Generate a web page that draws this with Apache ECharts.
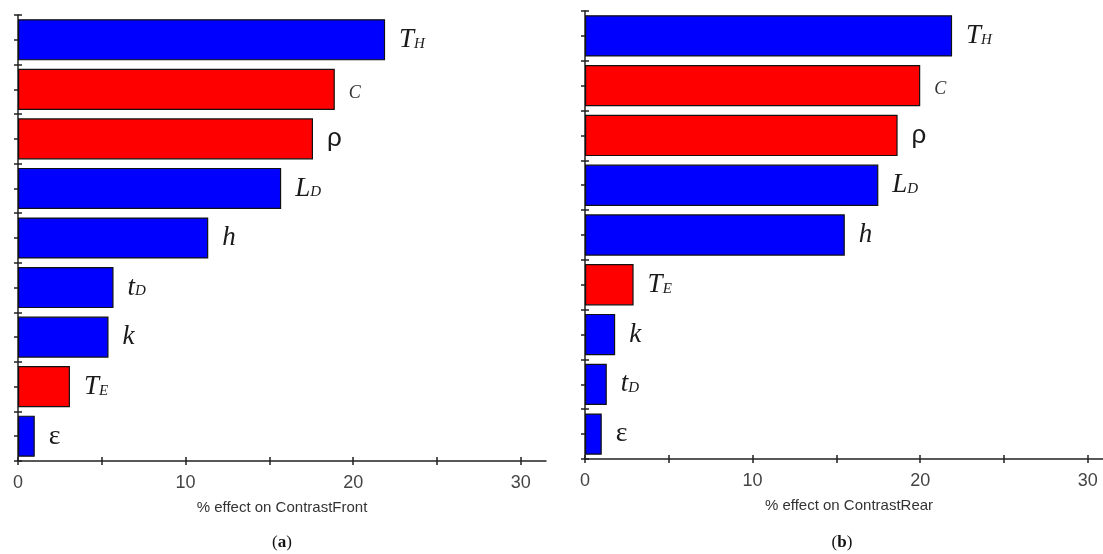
<!DOCTYPE html>
<html>
<head>
<meta charset="utf-8">
<script src="https://cdn.jsdelivr.net/npm/echarts@6/dist/echarts.min.js"></script>
<style>
  html, body { margin: 0; padding: 0; background: #fff; }
  #chart { width: 1103px; height: 554px; }
</style>
</head>
<body>
<div id="chart"></div>
<script>
// Sensitivity of front and rear contrast to each parameter (% effect)
const catsFront = ['TH', 'C', 'ρ', 'LD', 'h', 'tD', 'k', 'TE', 'ε'];
const valsFront = [21.9, 18.9, 17.6, 15.7, 11.35, 5.7, 5.4, 3.1, 1.0];
const groupFront = [0, 1, 1, 0, 0, 0, 0, 1, 0];

const catsRear = ['TH', 'C', 'ρ', 'LD', 'h', 'TE', 'k', 'tD', 'ε'];
const valsRear = [21.9, 20.0, 18.65, 17.5, 15.5, 2.9, 1.8, 1.3, 1.0];
const groupRear = [0, 1, 1, 0, 0, 1, 0, 0, 0];

const xTicks = [0, 5, 10, 15, 20, 25, 30];
const xLabels = [0, 10, 20, 30];
const axisNames = ['% effect on ContrastFront', '% effect on ContrastRear'];
const panelTags = ['a', 'b'];

const palette = ['#0000ff', '#ff0000'];

// parameter symbols as rich text: italic letters with small subscripts
const symbolText = {
  TH: '{it|T}{sub|H}',
  C: '{sc|C}',
  'ρ': '{gr|ρ}',
  LD: '{it|L}{sub|D}',
  h: '{it|h}',
  tD: '{it|t}{sub|D}',
  k: '{it|k}',
  TE: '{it|T}{sub|E}',
  'ε': '{ep|ε}'
};

const rich = {
  it: { fontFamily: 'Liberation Serif', fontStyle: 'italic', fontSize: 27, color: '#1a1a1a' },
  sub: { fontFamily: 'Liberation Serif', fontStyle: 'italic', fontSize: 15, color: '#1a1a1a', padding: [8, 0, 0, 0] },
  sc: { fontFamily: 'Liberation Serif', fontStyle: 'italic', fontSize: 18, color: '#333', padding: [8, 0, 0, 0] },
  gr: { fontFamily: 'Liberation Sans', fontSize: 26, color: '#1a1a1a' },
  ep: { fontFamily: 'Liberation Serif', fontSize: 28, color: '#1a1a1a' }
};

const grids = [
  { left: 18, top: 15, width: 528, height: 446, outerBoundsMode: 'none' },
  { left: 585, top: 11, width: 528, height: 448, outerBoundsMode: 'none' }
];

const axisColor = '#222';
const xAxes = [], yAxes = [], series = [];

function buildPanel(i, cats, vals, groups) {
  // value axis with outward ticks, labels and name
  xAxes.push({
    gridIndex: i, type: 'value', position: 'bottom', min: 0, max: 31.5, interval: 5,
    axisLine: { show: true, lineStyle: { color: axisColor, width: 1.5 } },
    axisTick: { show: true, length: 4, customValues: xTicks, lineStyle: { color: axisColor, width: 1.5 } },
    axisLabel: { customValues: xLabels, margin: 13, fontSize: 18, color: '#444', fontFamily: 'Liberation Sans' },
    splitLine: { show: false },
    name: axisNames[i], nameLocation: 'middle', nameGap: 39,
    nameTextStyle: { fontSize: 15, color: '#333', fontFamily: 'Liberation Sans' }
  });
  // same axis, inward half of each tick
  xAxes.push({
    gridIndex: i, type: 'value', position: 'bottom', min: 0, max: 31.5, interval: 5,
    axisLine: { show: false },
    axisTick: { show: true, inside: true, length: 4, customValues: xTicks, lineStyle: { color: axisColor, width: 1.5 } },
    axisLabel: { show: false }, splitLine: { show: false }
  });
  const yc = yAxes.length;
  yAxes.push({
    gridIndex: i, type: 'category', data: cats, inverse: true, show: false
  });
  // tick axes: marks at band edges and band centres, crossing the axis line
  yAxes.push({
    gridIndex: i, type: 'value', position: 'left', min: 0, max: 9, interval: 0.5,
    axisLine: { show: true, lineStyle: { color: axisColor, width: 1.5 } },
    axisTick: { show: true, length: 4, lineStyle: { color: axisColor, width: 1.5 } },
    axisLabel: { show: false }, splitLine: { show: false }
  });
  yAxes.push({
    gridIndex: i, type: 'value', position: 'left', min: 0, max: 9, interval: 0.5,
    axisLine: { show: false },
    axisTick: { show: true, inside: true, length: 4, lineStyle: { color: axisColor, width: 1.5 } },
    axisLabel: { show: false }, splitLine: { show: false }
  });
  series.push({
    type: 'bar',
    xAxisIndex: i * 2,
    yAxisIndex: yc,
    barCategoryGap: '17%',
    data: vals.map((v, j) => ({ value: v, itemStyle: { color: palette[groups[j]] } })),
    itemStyle: { borderColor: '#111', borderWidth: 1.2 },
    label: {
      show: true, position: 'right', distance: 14,
      formatter: p => symbolText[p.name],
      rich: rich
    },
    silent: true,
    animation: false
  });
}

buildPanel(0, catsFront, valsFront, groupFront);
buildPanel(1, catsRear, valsRear, groupRear);

const tagCenters = [282, 842];
const graphic = panelTags.map((t, i) => ({
  type: 'text',
  x: tagCenters[i], y: 543,
  style: {
    text: '{p|(}{b|' + t + '}{p|)}',
    rich: {
      p: { fontFamily: 'Liberation Serif', fontSize: 17, fill: '#111' },
      b: { fontFamily: 'Liberation Serif', fontSize: 17, fontWeight: 'bold', fill: '#111' }
    },
    align: 'center', verticalAlign: 'middle'
  }
}));

const chart = echarts.init(document.getElementById('chart'), null, { renderer: 'canvas' });
chart.setOption({
  animation: false,
  backgroundColor: '#fff',
  grid: grids,
  xAxis: xAxes,
  yAxis: yAxes,
  series: series,
  graphic: graphic
});
</script>
</body>
</html>
